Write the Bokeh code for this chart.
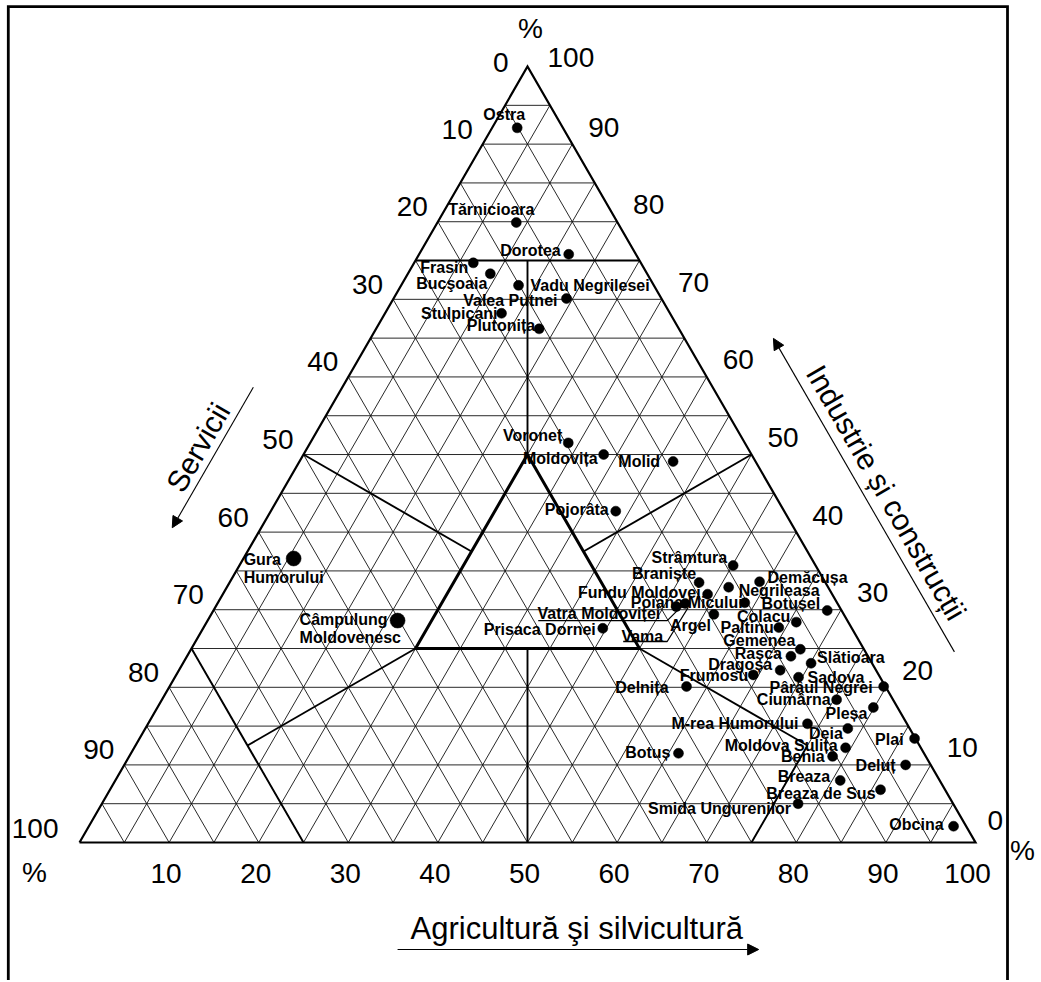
import math
import numpy as np
from bokeh.plotting import figure
from bokeh.models import ColumnDataSource, Range1d, Arrow, NormalHead
from bokeh.core.properties import value
from bokeh.embed import file_html
from bokeh.resources import INLINE

# ---------------- data (shares of employed population, %) ----------------
names = ["Ostra", "Tărnicioara", "Dorotea", "Frasin", "Bucşoaia", "Vadu Negrilesei",
         "Valea Putnei", "Stulpicani", "Plutonița", "Voroneț", "Moldovița", "Molid",
         "Pojorâta", "Strâmtura", "Braniște", "Negrileasa", "Demăcușa", "Fundu Moldovei",
         "Poiana Micului", "Vatra Moldoviței", "Vama", "Argel", "Colacu", "Paltinu",
         "Botușel", "Gemenea", "Rașca", "Slătioara", "Dragoșa", "Sadova", "Frumosu",
         "Delnița", "Prisaca Dornei", "Pârâul Negrei", "Ciumârna", "Pleșa",
         "M-rea Humorului", "Deia", "Plai", "Moldova Sulița", "Benia", "Botuș", "Deluț",
         "Breaza", "Breaza de Sus", "Smida Ungurenilor", "Obcina", "Gura Humorului",
         "Câmpulung Moldovenesc"]
agriculture = [2.8, 8.8, 16.7, 6.6, 9.2, 13.1, 19.3, 13.0, 18.2, 28.8, 33.5, 41.7,
               38.5, 55.1, 52.4, 56.0, 59.1, 54.1, 58.8, 51.4, 52.2, 56.1, 65.8, 64.2,
               68.5, 68.0, 67.4, 70.1, 67.1, 69.6, 64.4, 57.7, 44.6, 79.7, 75.3, 79.9,
               73.6, 78.4, 86.5, 79.4, 78.5, 61.1, 87.2, 80.9, 86.0, 77.7, 96.5, 5.6, 21.2]
industry = [92.1, 79.9, 75.8, 74.7, 73.3, 71.8, 70.1, 68.2, 66.2, 51.5, 50.0, 49.1,
            42.7, 35.7, 33.5, 32.9, 33.6, 32.0, 30.9, 30.4, 30.8, 29.4, 28.4, 27.7,
            29.9, 24.9, 24.0, 23.1, 22.2, 21.3, 21.6, 20.1, 27.6, 20.1, 18.4, 17.4,
            15.3, 14.7, 13.4, 12.2, 11.1, 11.5, 10.0, 8.0, 6.8, 5.0, 2.1, 36.6, 28.6]
services = [5.1, 11.3, 7.5, 18.7, 17.5, 15.1, 10.6, 18.8, 15.6, 19.7, 16.5, 9.2,
            18.8, 9.2, 14.1, 11.1, 7.3, 13.9, 10.3, 18.2, 17.0, 14.5, 5.8, 8.1,
            1.6, 7.1, 8.6, 6.8, 10.7, 9.1, 14.0, 22.2, 27.8, 0.2, 6.3, 2.7,
            11.1, 6.9, 0.1, 8.4, 10.4, 27.4, 2.8, 11.1, 7.2, 17.3, 1.4, 57.8, 50.2]
urban = ["Gura Humorului", "Câmpulung Moldovenesc"]

tick_values = [0, 10, 20, 30, 40, 50, 60, 70, 80, 90, 100]
tick_labels = [str(v) for v in tick_values]
title_services = "Servicii"
title_industry = "Industrie și construcții"
title_agri = "Agricultură şi silvicultură"

# classification boundaries (agriculture, industry) start / end
zone_a0 = [0, 12.5, 0, 50, 50, 75, 37.5, 0, 25]
zone_i0 = [75, 75, 50, 50, 25, 12.5, 25, 25, 25]
zone_a1 = [25, 25, 25, 37.5, 75, 75, 50, 25, 12.5]
zone_i1 = [75, 50, 37.5, 37.5, 12.5, 0, 0, 0, 12.5]
core_a = [25, 25, 50, 25]
core_i = [50, 25, 25, 50]

# ---------------- layout helpers ----------------
SQ = math.sqrt(3) / 2.0
PX = 8.96            # pixels per data unit
W, H = 1038, 980
ORX, ORY = 79, 842   # pixel position of the 100 % services corner
X0 = -ORX / PX
Y0 = -(H - ORY) / PX


def tern(a, i):
    a = np.asarray(a, dtype=float)
    i = np.asarray(i, dtype=float)
    return a + i / 2.0, i * SQ


def shift(x, y, dx, dy):
    """shift a data point by screen pixels (dy positive = down)"""
    return x + dx / PX, y - dy / PX


def pix(sx, sy):
    """page pixel -> data coordinate (for the frame only)"""
    return X0 + sx / PX, Y0 + (H - sy) / PX


p = figure(width=W, height=H, output_backend="svg", toolbar_location=None,
           x_range=Range1d(X0, X0 + W / PX), y_range=Range1d(Y0, Y0 + H / PX),
           x_axis_location=None, y_axis_location=None, min_border=0)
p.grid.visible = False
p.outline_line_color = None
p.background_fill_color = "white"
p.border_fill_color = "white"

# frame (open at the bottom)
fl = pix(7.8, 6.2)
fr = pix(1007, 6.2)
fb = pix(0, H + 20)
p.line([fl[0], fl[0], fr[0], fr[0]], [fb[1], fl[1], fr[1], fb[1]],
       line_color="black", line_width=2.8, line_join="miter")

# grid
gx, gy = [], []
for v in range(5, 100, 5):
    for (a0, i0, a1, i1) in [(0, v, 100 - v, v), (v, 0, v, 100 - v), (100 - v, 0, 0, 100 - v)]:
        xs, ys = tern([a0, a1], [i0, i1])
        gx.append(list(xs)); gy.append(list(ys))
p.multi_line(gx, gy, line_color="#111111", line_width=0.9)

# outer triangle
tx, ty = tern([0, 100, 0, 0], [0, 0, 100, 0])
p.line(tx, ty, line_color="black", line_width=2.2, line_join="miter")

# zone boundaries
zx, zy = [], []
for a0, i0, a1, i1 in zip(zone_a0, zone_i0, zone_a1, zone_i1):
    xs, ys = tern([a0, a1], [i0, i1])
    zx.append(list(xs)); zy.append(list(ys))
p.multi_line(zx, zy, line_color="black", line_width=1.9)
cx, cy = tern(core_a, core_i)
p.line(cx, cy, line_color="black", line_width=3.0, line_join="miter")

# points
px_, py_ = tern(agriculture, industry)
sizes = [15 if n in urban else 10 for n in names]
src = ColumnDataSource(dict(x=px_, y=py_, size=sizes, name=names,
                            A=agriculture, I=industry, S=services))
p.scatter("x", "y", size="size", source=src, marker="circle",
          fill_color="black", line_color="black", line_width=0.5)

# point labels: (align, dx, dy) in screen px relative to dot
label_layout = {
    "Ostra": ("center", -13, -13), "Tărnicioara": ("center", -25, -13),
    "Dorotea": ("right", -8, -4), "Frasin": ("right", -5, 5), "Bucşoaia": ("right", -3, 10),
    "Vadu Negrilesei": ("left", 12, 0), "Valea Putnei": ("right", -9, 2),
    "Stulpicani": ("right", -4, 0), "Plutonița": ("right", -4, -3),
    "Voroneț": ("right", -6, -7), "Moldovița": ("right", -6, 4), "Molid": ("right", -13, 0),
    "Pojorâta": ("right", -7, -2), "Strâmtura": ("right", -6, -8),
    "Braniște": ("right", -3, -9), "Negrileasa": ("left", 10, 3),
    "Demăcușa": ("left", 8, -4), "Fundu Moldovei": ("right", -7, -2),
    "Poiana Micului": ("right", -2, 0), "Vatra Moldoviței": ("right", -16, 7),
    "Vama": ("right", -22, 33), "Argel": ("right", -3, 11), "Colacu": ("right", -6, -6),
    "Paltinu": ("right", -5, 0), "Botușel": ("right", -7, -7), "Gemenea": ("right", -5, -9),
    "Rașca": ("right", -9, -3), "Slătioara": ("left", 6, -6), "Dragoșa": ("right", -8, -6),
    "Sadova": ("left", 9, 0), "Frumosu": ("right", -5, 1), "Delnița": ("right", -18, 1),
    "Prisaca Dornei": ("right", -7, 1), "Pârâul Negrei": ("right", -11, 1),
    "Ciumârna": ("right", -6, 0), "Pleșa": ("right", -6, 6),
    "M-rea Humorului": ("right", -9, 0), "Deia": ("right", -5, 5), "Plai": ("right", -11, 1),
    "Moldova Sulița": ("right", -8, -2), "Benia": ("right", -8, 0), "Botuș": ("right", -8, -1),
    "Deluț": ("right", -10, 1), "Breaza": ("right", -10, -4),
    "Breaza de Sus": ("right", -5, 4), "Smida Ungurenilor": ("right", -7, 5),
    "Obcina": ("right", -10, -2), "Gura Humorului": ("left", -50, 1),
    "Câmpulung Moldovenesc": ("left", -98, -1),
}
two_line = {"Gura Humorului", "Câmpulung Moldovenesc"}

groups = {"left": ([], [], []), "right": ([], [], []), "center": ([], [], [])}
for n, x, y in zip(names, px_, py_):
    al, dx, dy = label_layout[n]
    lines = n.split(" ") if n in two_line else [n]
    for k, t in enumerate(lines):
        lx, ly = shift(x, y, dx, dy + 18 * k)
        g = groups[al]
        g[0].append(lx); g[1].append(ly); g[2].append(t)
for al, (xs, ys, ts) in groups.items():
    if xs:
        p.text(xs, ys, text=ts, text_align=al, text_baseline="middle",
               text_font=value("Liberation Sans"), text_font_size="16px",
               text_font_style="bold", text_color="black")

# leader lines for Vatra Moldoviței and Vama
leaders = {"Vatra Moldoviței": [(-138, 14), (-9, 14), (1, 4)],
           "Vama": [(-62, 38), (-18, 38), (3, 4)]}
for n, pts in leaders.items():
    k = names.index(n)
    xs, ys = [], []
    for dx, dy in pts:
        lx, ly = shift(px_[k], py_[k], dx, dy)
        xs.append(lx); ys.append(ly)
    p.line(xs, ys, line_color="black", line_width=1.3)

# tick labels
font = value("Liberation Sans")
TF = "28px"
lx_, ly_, lt_ = [], [], []
for v, t in zip(tick_values, tick_labels):
    x, y = tern(0, 100 - v)
    dx, dy = (-19, -4) if v == 0 else ((-21, -14) if v == 100 else (-10, -15))
    x, y = shift(float(x), float(y), dx, dy)
    lx_.append(x); ly_.append(y); lt_.append(t)
p.text(lx_, ly_, text=lt_, text_align="right", text_baseline="middle",
       text_font=font, text_font_size=TF, text_color="black")

rx_, ry_, rt_ = [], [], []
for v, t in zip(tick_values, tick_labels):
    x, y = tern(100 - v, v)
    dx, dy = (20, -9) if v == 100 else ((12, -22) if v == 0 else (16, -17))
    x, y = shift(float(x), float(y), dx, dy)
    rx_.append(x); ry_.append(y); rt_.append(t)
p.text(rx_, ry_, text=rt_, text_align="left", text_baseline="middle",
       text_font=font, text_font_size=TF, text_color="black")

bx_, by_, bt_ = [], [], []
for v, t in zip(tick_values, tick_labels):
    if v == 0:
        continue
    x, y = tern(v, 0)
    x, y = shift(float(x), float(y), -8 if v == 100 else -3, 31)
    bx_.append(x); by_.append(y); bt_.append(t)
p.text(bx_, by_, text=bt_, text_align="center", text_baseline="middle",
       text_font=font, text_font_size=TF, text_color="black")

# percent signs
pc = []
for (a, i, dx, dy) in [(0, 100, 3, -38), (0, 0, -45, 30), (100, 0, 47, 8)]:
    x, y = tern(a, i)
    pc.append(shift(float(x), float(y), dx, dy))
p.text([q[0] for q in pc], [q[1] for q in pc], text=["%", "%", "%"], text_align="center",
       text_baseline="middle", text_font=font, text_font_size=TF, text_color="black")


# axis titles and arrows
def left_edge(s, off):
    x, y = tern(0, 100 - s)
    return float(x) - off * SQ, float(y) + off * 0.5


def right_edge(i, off):
    x, y = tern(100 - i, i)
    return float(x) + off * SQ, float(y) + off * 0.5


head = dict(size=11, fill_color="black", line_color="black", line_width=1)
s0 = left_edge(46.3, 8.6); s1 = left_edge(64.4, 8.6)
p.add_layout(Arrow(end=NormalHead(**head), x_start=s0[0], y_start=s0[1],
                   x_end=s1[0], y_end=s1[1], line_width=1.1, line_color="black"))
st = left_edge(55.2, 10.6)
p.text([st[0]], [st[1]], text=[title_services], angle=math.pi / 3, text_align="center",
       text_baseline="middle", text_font=font, text_font_size="30px", text_color="black")

i0 = right_edge(19.6, 8.6); i1 = right_edge(60.0, 8.6)
p.add_layout(Arrow(end=NormalHead(**head), x_start=i0[0], y_start=i0[1],
                   x_end=i1[0], y_end=i1[1], line_width=1.1, line_color="black"))
it = right_edge(38.8, 10.9)
p.text([it[0]], [it[1]], text=[title_industry], angle=-math.pi / 3, text_align="center",
       text_baseline="middle", text_font=font, text_font_size="30px", text_color="black")

a0x, a0y = shift(float(tern(35.5, 0)[0]), 0.0, 0, 107)
a1x, a1y = shift(float(tern(75.8, 0)[0]), 0.0, 0, 107)
p.add_layout(Arrow(end=NormalHead(**head), x_start=a0x, y_start=a0y,
                   x_end=a1x, y_end=a1y, line_width=1.1, line_color="black"))
atx, aty = shift(float(tern(55.5, 0)[0]), 0.0, 0, 86)
p.text([atx], [aty], text=[title_agri], text_align="center", text_baseline="middle",
       text_font=font, text_font_size="31px", text_color="black")

open("out.html", "w").write(file_html(p, INLINE))
